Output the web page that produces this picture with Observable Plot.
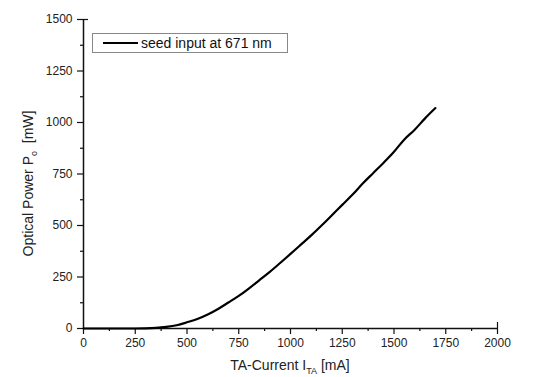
<!DOCTYPE html>
<html>
<head>
<meta charset="utf-8">
<script src="https://cdn.jsdelivr.net/npm/d3@7"></script>
<script src="https://cdn.jsdelivr.net/npm/@observablehq/plot@0.6"></script>
<style>
  html, body { margin: 0; padding: 0; background: #fff; }
  #chart { width: 533px; height: 377px; }
</style>
</head>
<body>
<div id="chart"></div>
<script>
// TA current (mA) and optical output power (mW)
const current = [0, 100, 200, 300, 350, 400, 450, 500, 550, 600, 650, 700, 750, 800, 850, 900, 950, 1000, 1050, 1100, 1150, 1200, 1250, 1300, 1350, 1400, 1450, 1500, 1550, 1600, 1650, 1700];
const power   = [0, 0, 0, 1, 3, 8, 16, 30, 46, 68, 95, 126, 158, 195, 235, 275, 318, 362, 407, 452, 500, 550, 600, 650, 705, 755, 805, 858, 918, 965, 1020, 1070];
const xTicks = [0, 250, 500, 750, 1000, 1250, 1500, 1750, 2000];
const yTicks = [0, 250, 500, 750, 1000, 1250, 1500];
const xMinor = [125, 375, 625, 875, 1125, 1375, 1625, 1875];
const yMinor = [125, 375, 625, 875, 1125, 1375];
const xEnd = [2000];
const yEnd = [1500];
const seriesName = "seed input at 671 nm";

const data = current.map((c, i) => ({current: c, power: power[i]}));
const font = "'Liberation Sans', Arial, Helvetica, sans-serif";

const plot = Plot.plot({
  width: 533,
  height: 377,
  marginLeft: 83,
  marginRight: 36,
  marginTop: 19,
  marginBottom: 49,
  style: {fontFamily: font, fontSize: "12px", color: "#222", background: "#fff"},
  x: {domain: [0, 2000]},
  y: {domain: [0, 1500]},
  marks: [
    Plot.axisX(xMinor, {tickSize: 3, text: null, label: null, stroke: "#111", strokeWidth: 1.2}),
    Plot.axisX(xTicks, {tickSize: 6, tickPadding: 4, label: null, stroke: "#111", strokeWidth: 1.2, tickFormat: d => String(d)}),
    Plot.axisX(xEnd, {tickSize: -6, text: null, label: null, stroke: "#111", strokeWidth: 1.2}),
    Plot.axisY(yMinor, {tickSize: 3, text: null, label: null, stroke: "#111", strokeWidth: 1.2}),
    Plot.axisY(yTicks, {tickSize: 6, tickPadding: 5, label: null, stroke: "#111", strokeWidth: 1.2, tickFormat: d => String(d)}),
    Plot.axisY(yEnd, {tickSize: -5, text: null, label: null, stroke: "#111", strokeWidth: 1.2}),
    Plot.ruleX([0], {y1: 0, y2: 1500, stroke: "#111", strokeWidth: 1.5}),
    Plot.ruleY([0], {x1: 0, x2: 2000, stroke: "#111", strokeWidth: 1.5}),
    Plot.line(data, {x: "current", y: "power", stroke: "#000", strokeWidth: 2.2, curve: "monotone-x"})
  ]
});

document.getElementById("chart").appendChild(plot);

const svg = d3.select(plot);
const xs = plot.scale("x"), ys = plot.scale("y");

// x-axis title with subscript
const xt = svg.append("text")
  .attr("x", xs.apply(1000)).attr("y", 370)
  .attr("text-anchor", "middle")
  .attr("font-family", font).attr("font-size", 14).attr("fill", "#222");
xt.append("tspan").text("TA-Current I");
xt.append("tspan").attr("dy", 4).attr("font-size", 9).text("TA");
xt.append("tspan").attr("dy", -4).text(" [mA]");

// y-axis title with subscript
const yt = svg.append("text")
  .attr("transform", `translate(33,${ys.apply(750) + 10}) rotate(-90)`)
  .attr("text-anchor", "middle")
  .attr("font-family", font).attr("font-size", 14).attr("fill", "#222");
yt.append("tspan").text("Optical Power P");
yt.append("tspan").attr("dy", 4).attr("font-size", 9).text("o");
yt.append("tspan").attr("dy", -4).text("  [mW]");

// legend box
const lg = svg.append("g");
lg.append("rect").attr("x", 92.5).attr("y", 33.5).attr("width", 195).attr("height", 19)
  .attr("fill", "#fff").attr("stroke", "#888").attr("stroke-width", 1);
lg.append("line").attr("x1", 103).attr("x2", 138).attr("y1", 43).attr("y2", 43)
  .attr("stroke", "#000").attr("stroke-width", 2.2);
lg.append("text").attr("x", 141).attr("y", 48).attr("text-anchor", "start")
  .attr("font-family", font).attr("font-size", 14).attr("fill", "#111").text(seriesName);
</script>
</body>
</html>
